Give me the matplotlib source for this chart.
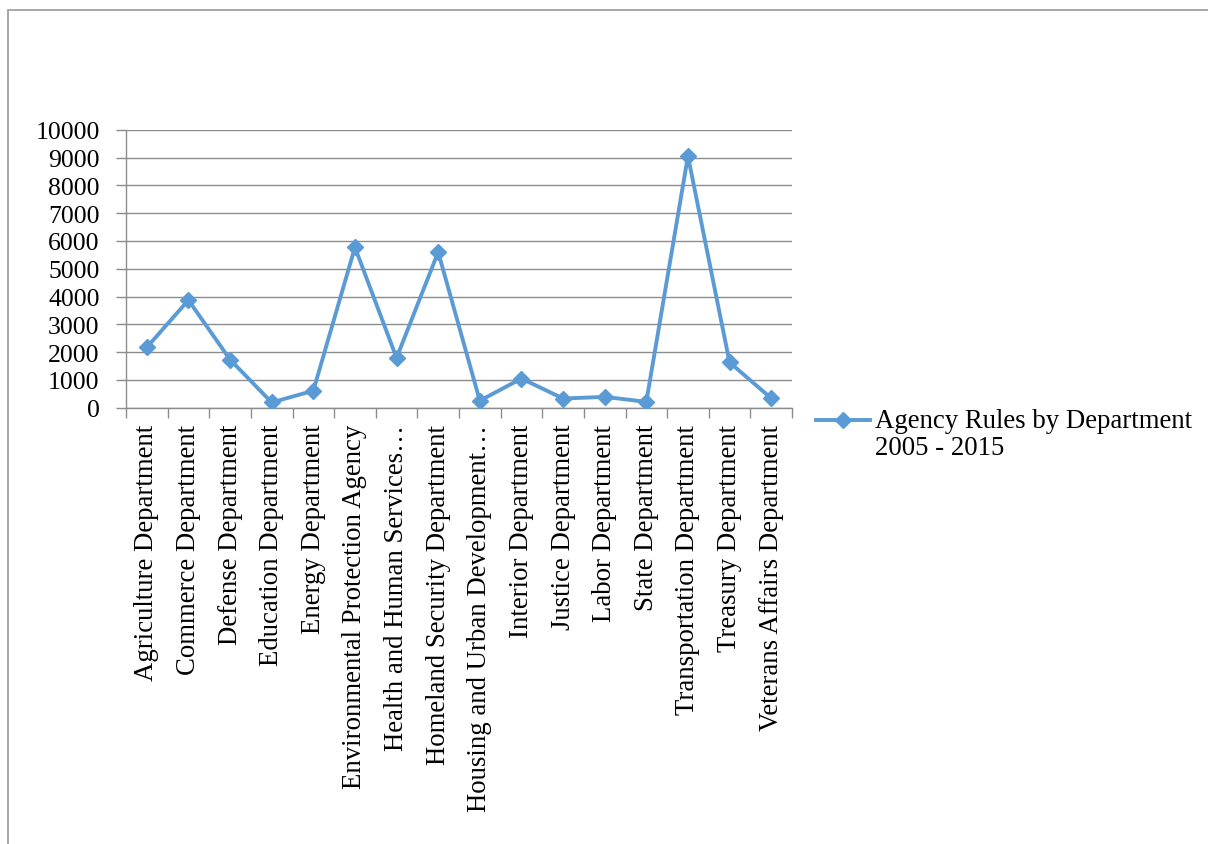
import matplotlib
matplotlib.use("Agg")
import matplotlib.pyplot as plt
from matplotlib.patches import Rectangle
from matplotlib.legend_handler import HandlerLine2D

# departments and rule counts (2005 - 2015)
departments = [
    "Agriculture Department", "Commerce Department", "Defense Department",
    "Education Department", "Energy Department", "Environmental Protection Agency",
    "Health and Human Services\u2026", "Homeland Security Department",
    "Housing and Urban Development\u2026", "Interior Department", "Justice Department",
    "Labor Department", "State Department", "Transportation Department",
    "Treasury Department", "Veterans Affairs Department",
]
rules = [2170, 3870, 1730, 190, 610, 5770, 1790, 5600,
         250, 1050, 330, 390, 210, 9050, 1630, 340]
yticks = [0, 1000, 2000, 3000, 4000, 5000, 6000, 7000, 8000, 9000, 10000]
seriesName = "Agency Rules by Department\n2005 - 2015"

plt.rcParams['font.family'] = ['Liberation Serif', 'DejaVu Serif']
fs = 19.3
grey = '#8c8c8c'
blue = '#5b9bd5'


# put the legend marker next to the first line of the label, like excel does
class FirstLineHandler(HandlerLine2D):
    def create_artists(self, legend, orig_handle, xdescent, ydescent, width, height, fontsize, trans):
        return super().create_artists(legend, orig_handle, xdescent, ydescent - 1.04 * fontsize,
                                      width, height, fontsize, trans)


fig = plt.figure(figsize=(12.08, 8.45), dpi=100)
ax = fig.add_axes([126 / 1208, 1 - 408.7 / 845, (792 - 126) / 1208, (408.7 - 130.7) / 845])

x = list(range(len(departments)))
line, = ax.plot(x, rules, color=blue, lw=2.8, marker='D', markersize=8, label=seriesName, zorder=3)

ax.set_ylim(0, 10000)
ax.set_yticks(yticks)
ax.set_xlim(-0.5, len(departments) - 0.5)
ax.set_xticks([i - 0.5 for i in range(len(departments) + 1)])
ax.set_xticklabels([])
ax.set_xticks(x, minor=True)
ax.set_xticklabels(departments, minor=True, rotation=90, fontsize=fs, va='top', ha='center')
ax.tick_params(axis='x', which='minor', length=0, pad=11.5)
ax.tick_params(axis='x', which='major', length=7, color=grey, width=1)
ax.tick_params(axis='y', length=7, color=grey, width=1, pad=12, labelsize=18.5)

ax.grid(axis='y', color=grey, lw=1)
ax.set_axisbelow(True)
for s in ['top', 'right']:
    ax.spines[s].set_visible(False)
for s in ['left', 'bottom']:
    ax.spines[s].set_color(grey)
    ax.spines[s].set_linewidth(1)

leg = ax.legend(loc='upper left', bbox_to_anchor=(816 / 1208, 1 - 409 / 845), bbox_transform=fig.transFigure,
                frameon=False, fontsize=fs, handlelength=2.0, handletextpad=0.2, borderaxespad=0,
                borderpad=0, handler_map={line: FirstLineHandler()})
for t in leg.get_texts():
    t.set_linespacing(1.12)

# outer chart frame (cut off at right and bottom)
fig.patches.append(Rectangle((8 / 1208, -0.1), 1.2, 1 - 11 / 845 + 0.1, transform=fig.transFigure,
                             fill=False, ec='#a0a0a0', lw=1.3))

plt.savefig('out.png', dpi=100)
